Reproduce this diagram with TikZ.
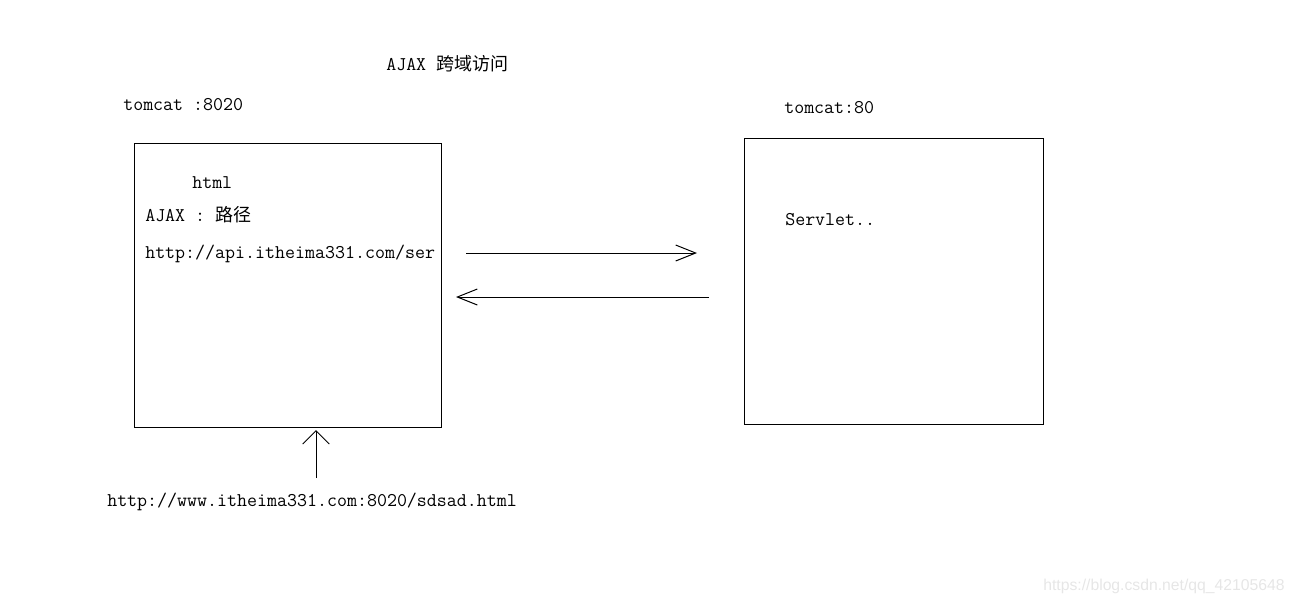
\documentclass[tikz,border=0pt]{standalone}
\usepackage{fontspec}
\usetikzlibrary{arrows.meta, positioning}
\newfontfamily\cjk{Noto Sans CJK SC}
\newfontfamily\wmfont{Liberation Sans}
\definecolor{wmgrey}{HTML}{E6E6E6}
\tikzset{
  x=0.75pt, y=-0.75pt,
  txt/.style={anchor=base west, inner sep=0pt, font=\ttfamily\fontsize{14.55}{16}\selectfont},
  server/.style={rectangle, draw=black, line width=0.75pt, inner sep=0pt},
  hbarb/.style={-{Straight Barb[length=15pt, width=12pt, line width=0.75pt]}, line width=0.75pt},
  vbarb/.style={-{Straight Barb[length=10pt, width=20pt, line width=0.75pt]}, line width=0.75pt},
  wm/.style={anchor=base west, inner sep=0pt, text=wmgrey, font=\wmfont\fontsize{11.8}{13}\selectfont},
}
\newcommand{\zh}[1]{{\cjk\fontsize{13.5}{14}\selectfont #1}}

\begin{document}
\begin{tikzpicture}
  \useasboundingbox (0,0) rectangle (1296,604);

  % title
  \node[txt] (title) at (386,70) {AJAX \zh{跨域访问}};

  % left server
  \node[txt] (tc8020) at (123,110) {tomcat :8020};
  \node[server, minimum width=230.25pt, minimum height=213pt] (srcbox) at (287.5,285) {};
  \node[txt] (html) at (192,188) {html};
  \node[txt] (ajax) at (145,221) {AJAX : \zh{路径}};
  \node[txt] (apiurl) at (145,258) {http://api.itheima331.com/ser};

  % right server
  \node[txt] (tc80) at (784,113) {tomcat:80};
  \node[server, minimum width=224.25pt, minimum height=214.5pt] (dstbox) at (893.5,281) {};
  \node[txt] (servlet) at (785,225) {Servlet..};

  % request / response
  \coordinate (reqa) at (466,253);
  \coordinate (reqb) at (697,253);
  \coordinate (resa) at (709,297);
  \coordinate (resb) at (456,297);
  \draw[hbarb] (reqa) -- (reqb);
  \draw[hbarb] (resa) -- (resb);

  % page url
  \node[txt] (pageurl) at (107,506) {http://www.itheima331.com:8020/sdsad.html};
  \coordinate (upa) at (316,478);
  \coordinate (upb) at (316,430);
  \draw[vbarb] (upa) -- (upb);

  \node[wm] (mark) at (1043,590) {https://blog.csdn.net/qq\_42105648};
\end{tikzpicture}
\end{document}
